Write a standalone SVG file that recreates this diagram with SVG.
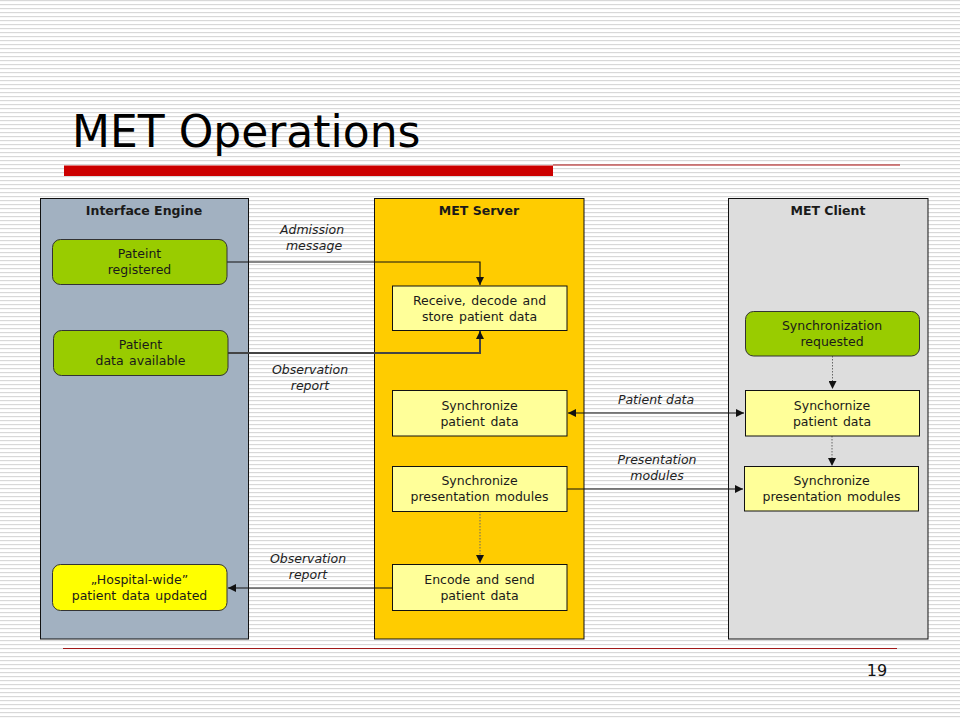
<svg xmlns="http://www.w3.org/2000/svg" width="960" height="720" viewBox="0 0 960 720">
<defs>
<pattern id="stripes" x="0" y="0" width="8" height="4" patternUnits="userSpaceOnUse">
<rect x="0" y="0" width="8" height="1.2" fill="#d8d8d8"/>
</pattern>
<marker id="arr" viewBox="0 0 10 10" refX="10" refY="5" markerWidth="9" markerHeight="8" markerUnits="userSpaceOnUse" orient="auto-start-reverse">
<path d="M0,0 L10,5 L0,10 z" fill="#111"/>
</marker>
</defs>
<style>
.lane{stroke:#111;stroke-width:1}
.box{fill:#ffff99;stroke:#111;stroke-width:1}
.rbox{stroke:#333;stroke-width:1}
.t{font-family:"DejaVu Sans",Verdana,sans-serif;font-size:12.5px;fill:#1a1a1a;text-anchor:middle;word-spacing:1.5px}
.h{font-family:"DejaVu Sans",Verdana,sans-serif;font-size:12.5px;font-weight:bold;fill:#1a1a1a;text-anchor:middle}
.lbl{font-family:"DejaVu Sans",Verdana,sans-serif;font-size:12.5px;font-style:italic;fill:#222;text-anchor:middle}
.c{fill:none;stroke:#111;stroke-width:1.2}
.d{fill:none;stroke:#666;stroke-width:1;stroke-dasharray:1.5 1.5}
</style>
<rect x="0" y="0" width="960" height="720" fill="#ffffff"/>
<rect x="0" y="0" width="960" height="720" fill="url(#stripes)"/>

<g id="title">
<text x="72" y="147" font-family="DejaVu Sans,Verdana,sans-serif" font-size="44" fill="#000">MET Operations</text>
<rect x="64" y="165.5" width="489" height="10.5" fill="#cc0000"/>
<line x1="553" y1="165" x2="900" y2="165" stroke="#b01010" stroke-width="1.2"/>
</g>

<g id="lane-interface-engine">
<rect class="lane" x="40.5" y="198.5" width="208" height="440.5" fill="#a2b1c1"/>
<text class="h" x="144" y="215">Interface Engine</text>
</g>
<g id="lane-met-server">
<rect class="lane" x="374.5" y="198.5" width="209.5" height="440.5" fill="#ffcc00"/>
<text class="h" x="479" y="215">MET Server</text>
</g>
<g id="lane-met-client">
<rect class="lane" x="728.5" y="198.5" width="199.5" height="440.5" fill="#dddddd"/>
<text class="h" x="828" y="215">MET Client</text>
</g>

<g id="connectors">
<polyline class="c" points="227,262 480,262 480,285" marker-end="url(#arr)"/>
<polyline fill="none" stroke="#444" stroke-width="2" points="228,353 480,353 480,331" marker-end="url(#arr)"/>
<line class="c" x1="568" y1="413" x2="744" y2="413" marker-start="url(#arr)" marker-end="url(#arr)"/>
<line class="c" x1="567" y1="489" x2="743" y2="489" marker-end="url(#arr)"/>
<line class="d" x1="832.5" y1="356" x2="832.5" y2="389" marker-end="url(#arr)"/>
<line class="d" x1="832" y1="436" x2="832" y2="466" marker-end="url(#arr)"/>
<line class="d" x1="480" y1="511" x2="480" y2="563" marker-end="url(#arr)"/>
<line class="c" x1="392" y1="588" x2="228" y2="588" marker-end="url(#arr)"/>
<text class="lbl" x="312" y="234">Admission</text>
<text class="lbl" x="314" y="250">message</text>
<text class="lbl" x="310" y="374">Observation</text>
<text class="lbl" x="310" y="390">report</text>
<text class="lbl" x="656" y="404">Patient data</text>
<text class="lbl" x="657" y="464">Presentation</text>
<text class="lbl" x="657" y="480">modules</text>
<text class="lbl" x="308" y="563">Observation</text>
<text class="lbl" x="308" y="579">report</text>
</g>

<g id="node-patient-registered">
<rect class="rbox" x="52.5" y="239.5" width="174.5" height="45" rx="8" fill="#99cc00"/>
<text class="t" x="139.5" y="258">Pateint</text>
<text class="t" x="139.5" y="274">registered</text>
</g>
<g id="node-patient-data-available">
<rect class="rbox" x="53.5" y="330.5" width="174.5" height="45" rx="8" fill="#99cc00"/>
<text class="t" x="140.5" y="349">Patient</text>
<text class="t" x="140.5" y="365">data available</text>
</g>
<g id="node-hospital-wide">
<rect class="rbox" x="52.5" y="564.5" width="174.5" height="46" rx="8" fill="#ffff00"/>
<text class="t" x="139.5" y="583.5">„Hospital-wide”</text>
<text class="t" x="139.5" y="599.5">patient data updated</text>
</g>
<g id="node-receive">
<rect class="box" x="392.5" y="286" width="174.5" height="44.5"/>
<text class="t" x="479.5" y="304.5">Receive, decode and</text>
<text class="t" x="479.5" y="320.5">store patient data</text>
</g>
<g id="node-server-sync-patient">
<rect class="box" x="392.5" y="390.5" width="174.5" height="45.5"/>
<text class="t" x="479.5" y="409.5">Synchronize</text>
<text class="t" x="479.5" y="425.5">patient data</text>
</g>
<g id="node-server-sync-pres">
<rect class="box" x="392.5" y="466.5" width="174.5" height="45"/>
<text class="t" x="479.5" y="485">Synchronize</text>
<text class="t" x="479.5" y="501">presentation modules</text>
</g>
<g id="node-encode">
<rect class="box" x="392.5" y="564.5" width="174.5" height="46"/>
<text class="t" x="479.5" y="583.5">Encode and send</text>
<text class="t" x="479.5" y="599.5">patient data</text>
</g>
<g id="node-sync-requested">
<rect class="rbox" x="745.5" y="311.5" width="174" height="44.5" rx="8" fill="#99cc00"/>
<text class="t" x="832" y="330">Synchronization</text>
<text class="t" x="832" y="346">requested</text>
</g>
<g id="node-client-sync-patient">
<rect class="box" x="745.5" y="390.5" width="174" height="45.5"/>
<text class="t" x="832" y="409.5">Synchornize</text>
<text class="t" x="832" y="425.5">patient data</text>
</g>
<g id="node-client-sync-pres">
<rect class="box" x="744.5" y="466.5" width="174" height="44.5"/>
<text class="t" x="831.5" y="485">Synchronize</text>
<text class="t" x="831.5" y="501">presentation modules</text>
</g>

<g id="footer">
<line x1="63" y1="648.5" x2="897" y2="648.5" stroke="#a01818" stroke-width="1.2"/>
<text x="877" y="676" font-family="DejaVu Sans,Verdana,sans-serif" font-size="16" fill="#111" text-anchor="middle">19</text>
</g>
</svg>
